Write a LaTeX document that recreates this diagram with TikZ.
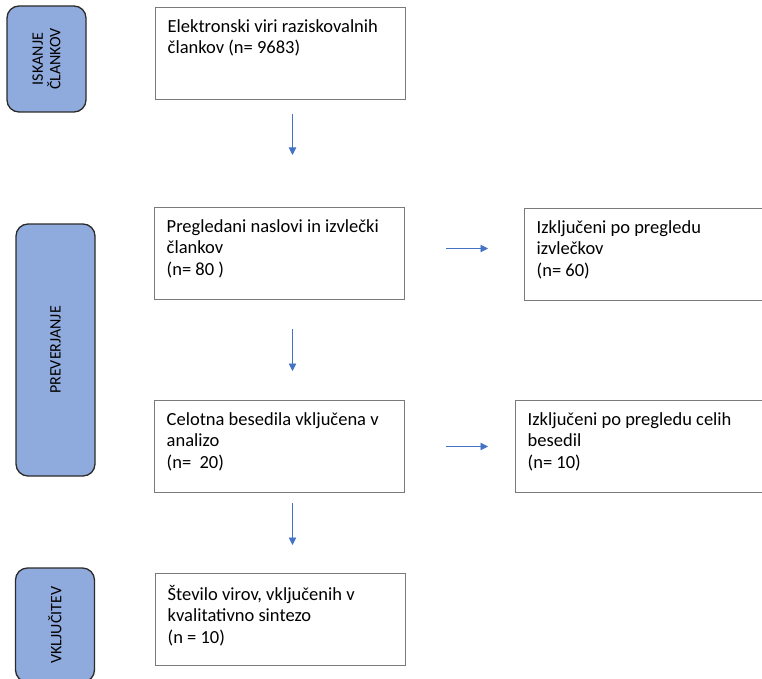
\documentclass[tikz,border=0pt]{standalone}
\usepackage{fontspec}
\setmainfont{Carlito}
\usetikzlibrary{arrows.meta}
\definecolor{stagefill}{HTML}{8FAADC}
\definecolor{stageline}{HTML}{2B2B2B}
\definecolor{flowblue}{HTML}{4472C4}
\definecolor{boxline}{HTML}{7A7A7A}

\begin{document}
\begin{tikzpicture}[x=1pt,y=-1pt,>={Triangle[length=7.5pt,width=7.5pt]},
  stage/.style={draw=stageline,fill=stagefill,line width=1.3pt,rounded corners=12pt,
    rotate=90,align=center,inner sep=0pt,font=\fontsize{16}{17.5}\selectfont},
  box/.style={draw=boxline,line width=1pt,anchor=north west,minimum height=92pt,inner sep=0pt},
  boxtext/.style={anchor=north west,align=left,inner xsep=12.5pt,inner ysep=12pt,
    font=\fontsize{18.5}{21.6}\selectfont},
  flow/.style={->,draw=flowblue,line width=0.9pt}]
\useasboundingbox (0,0) rectangle (762,679);
% ---------- stages on the left ----------
\node[stage,minimum width=106pt,minimum height=79pt] (search) at (46.5,59) {ISKANJE\\ČLANKOV};
\node[stage,minimum width=252pt,minimum height=79pt] (screen) at (55.5,350) {PREVERJANJE};
\node[stage,minimum width=114pt,minimum height=79pt] (incl) at (55,625) {VKLJUČITEV};
% ---------- main column ----------
\node[box,minimum width=250pt] (src) at (155,7) {};
\node[box,minimum width=250pt] (titles) at (154,207) {};
\node[box,minimum width=250pt] (full) at (154,400) {};
\node[box,minimum width=250pt] (final) at (155,573) {};
% ---------- excluded, right column ----------
\node[box,minimum width=260pt] (excabs) at (524,208) {};
\node[box,minimum width=260pt] (excfull) at (515,400) {};
% ---------- texts ----------
\node[boxtext] (srctxt) at (src.north west) {Elektronski viri raziskovalnih\\člankov (n= 9683)};
\node[boxtext] (titlestxt) at (titles.north west) {Pregledani naslovi in izvlečki\\člankov\\(n= 80 )};
\node[boxtext] (fulltxt) at (full.north west) {Celotna besedila vključena v\\analizo\\(n=\ \ 20)};
\node[boxtext] (finaltxt) at (final.north west) {Število virov, vključenih v\\kvalitativno sintezo\\(n = 10)};
\node[boxtext] (excabstxt) at (excabs.north west) {Izključeni po pregledu\\izvlečkov\\(n= 60)};
\node[boxtext] (excfulltxt) at (excfull.north west) {Izključeni po pregledu celih\\besedil\\(n= 10)};
% ---------- arrows ----------
\draw[flow,shorten <=14pt,shorten >=52pt] ([xshift=12pt]src.south) -- ([xshift=13pt]titles.north);
\draw[flow,shorten <=29pt,shorten >=29pt] ([xshift=13pt]titles.south) -- ([xshift=13pt]full.north);
\draw[flow,shorten <=10pt,shorten >=28pt] ([xshift=13pt]full.south) -- ([xshift=12pt]final.north);
\draw[flow,shorten <=41pt,shorten >=36pt] ([yshift=5pt]titles.east) -- ([yshift=5pt]titles.east -| excabs.west);
\draw[flow,shorten <=41pt,shorten >=27pt] (full.east) -- (full.east -| excfull.west);
\end{tikzpicture}
\end{document}
